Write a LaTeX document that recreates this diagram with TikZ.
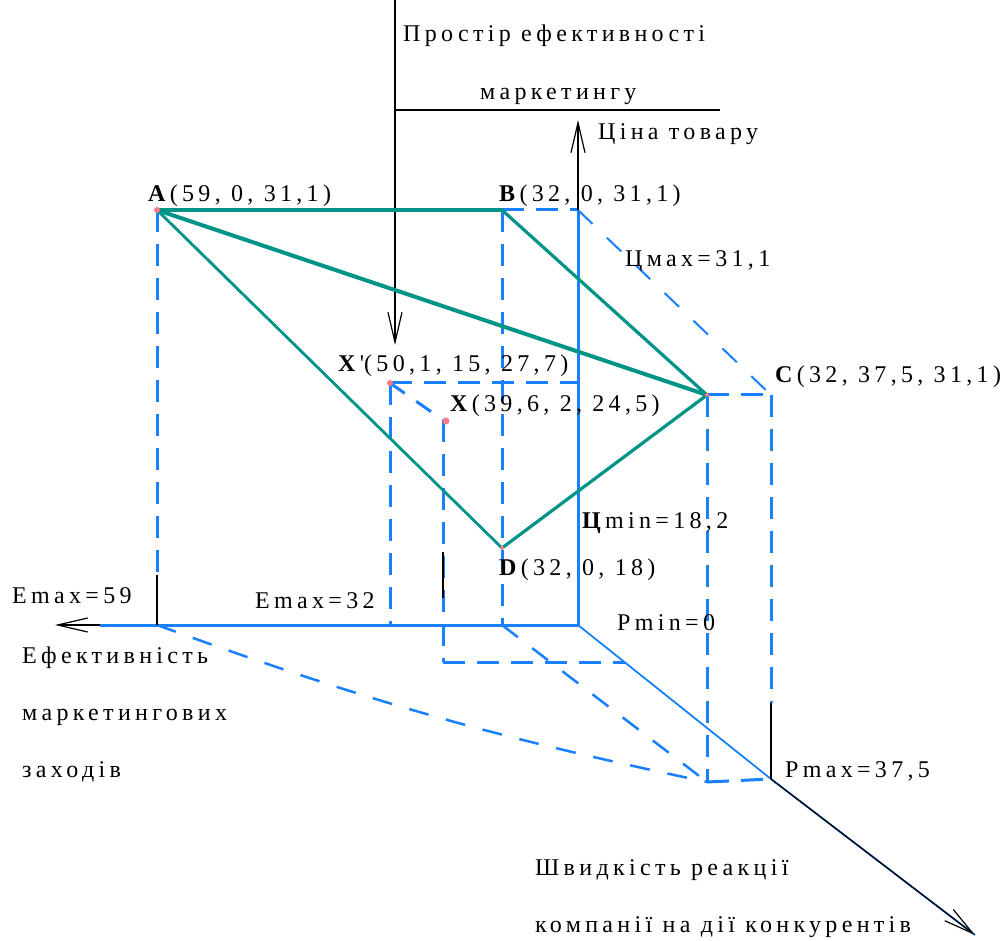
\documentclass[tikz,border=0pt]{standalone}
\usepackage{fontspec}
\setmainfont{Liberation Serif}
\usetikzlibrary{arrows.meta}
\definecolor{tealc}{RGB}{0,148,136}
\definecolor{bluec}{RGB}{25,128,255}
\definecolor{pinkc}{RGB}{255,120,130}
\newcommand{\lab}{\fontsize{24}{27}\selectfont\addfontfeature{LetterSpace=18}}
\tikzset{
  lbl/.style={inner sep=0pt, anchor=base west, font=\lab},
  solidb/.style={draw=bluec, line width=3pt},
  dashb/.style={draw=bluec, line width=3pt, dash pattern=on 22pt off 12pt},
  thinb/.style={draw=bluec, line width=1.8pt},
  tealln/.style={draw=tealc, line width=3.2pt},
  blk/.style={draw=black, line width=1.3pt},
  barb/.style={-{Straight Barb[length=30pt,width=14pt,line width=1.2pt]}},
  ptmark/.style={fill=pinkc, draw=none, circle, inner sep=0pt, minimum size=6pt}
}
\begin{document}
\begin{tikzpicture}[x=1pt,y=-1pt]
\useasboundingbox[fill=white] (0,0) rectangle (1005,941);
% key points
\coordinate (A) at (157,210);
\coordinate (B) at (502,210);
\coordinate (Bp) at (578,210);
\coordinate (O) at (578,625);
\coordinate (Ptop) at (578,120);
\coordinate (C) at (707,395);
\coordinate (Cp) at (771,395);
\coordinate (D) at (502,548);
\coordinate (Xp) at (390,383);
\coordinate (Xpr) at (578,383);
\coordinate (X) at (443,420);
\coordinate (E59) at (157,625);
\coordinate (E59t) at (157,575);
\coordinate (Eend) at (100,625);
\coordinate (Etip) at (55,625);
\coordinate (E32) at (390,625);
\coordinate (Bb) at (502,625);
\coordinate (Xb) at (443,662);
\coordinate (Xbr) at (625,662);
\coordinate (Cb) at (707,782);
\coordinate (Pm) at (771,779);
\coordinate (Pmt) at (771,703);
\coordinate (Ptip) at (975,935);
\coordinate (Xmid1) at (443,552);
\coordinate (Xmid2) at (443,598);
\coordinate (Ttop) at (395,0);
\coordinate (Tarr) at (395,345);
\coordinate (Tl) at (395,110);
\coordinate (Tr) at (720,110);

% blue construction lines
\draw[dashb] (A) -- (E59t);
\draw[dashb] (B) -- (Bb);
\draw[dashb] (B) -- (Bp);
\draw[dashb] (Xp) -- (E32);
\draw[dashb] (Xp) -- (Xpr);
\draw[dashb] (X) -- (Xb);
\draw[dashb] (Xb) -- (Xbr);
\draw[dashb, dash pattern=on 18pt off 14pt] (Xp) -- (X);
\draw[solidb] (O) -- (Bp);
\draw[solidb] (Eend) -- (O);
\draw[dashb, line width=2pt, dash pattern=on 20pt off 20pt] (Bp) -- (Cp);
\draw[dashb] (C) -- (Cp);
\draw[dashb] (C) -- (Cb);
\draw[dashb] (Cp) -- (Pmt);
\draw[dashb] (Cb) -- (Pm);
\draw[dashb, line width=2.5pt, dash pattern=on 20pt off 18pt] (E59) to[bend right=4] (Cb);
\draw[dashb, line width=2.5pt, dash pattern=on 20pt off 18pt] (Bb) -- (Cb);
\draw[thinb] (O) -- (Pm);
\draw[thinb] (Pm) -- (Ptip);

% black axes and guides
\draw[blk] (E59t) -- (E59);
\draw[blk, barb] (Eend) -- (Etip);
\draw[blk, barb] (Bp) -- (Ptop);
\draw[blk] (Pmt) -- (Pm);
\draw[blk, barb] (Pm) -- (Ptip);
\draw[blk] (Xmid1) -- (Xmid2);
\draw[blk, barb] (Ttop) -- (Tarr);
\draw[blk] (Tl) -- (Tr);

% teal polygon
\draw[tealln] (A) -- (B);
\draw[tealln, line width=4pt] (A) -- (C);
\draw[tealln, line width=2.8pt] (A) -- (D);
\draw[tealln] (B) -- (C);
\draw[tealln] (C) -- (D);

% point markers
\node[ptmark] (mA) at (A) {};
\node[ptmark] (mXp) at (Xp) {};
\node[ptmark, minimum size=7pt] (mX) at (446,421) {};
\node[ptmark, minimum size=4pt] (mC) at (C) {};
\node[ptmark, minimum size=4pt] (mD) at (D) {};

% labels
\node[lbl] (tA) at (148,202) {\textbf{A}(59, 0, 31,1)};
\node[lbl] (tB) at (499,202) {\textbf{B}(32, 0, 31,1)};
\node[lbl] (tCmax) at (625,267) {Цмах=31,1};
\node[lbl] (tXp) at (338,372) {\textbf{X}\textquotesingle(50,1, 15, 27,7)};
\node[lbl] (tX) at (450,412) {\textbf{X}(39,6, 2, 24,5)};
\node[lbl] (tC) at (775,383) {\textbf{C}(32, 37,5, 31,1)};
\node[lbl] (tCmin) at (582,528) {\textbf{Ц}min=18,2};
\node[lbl] (tD) at (499,575) {\textbf{D}(32, 0, 18)};
\node[lbl] (tPmin) at (617,630) {Pmin=0};
\node[lbl] (tE59) at (12,603) {Emax=59};
\node[lbl] (tE32) at (255,608) {Emax=32};
\node[lbl] (tE1) at (22,663) {Ефективність};
\node[lbl] (tE2) at (22,720) {маркетингових};
\node[lbl] (tE3) at (22,777) {заходів};
\node[lbl] (tPmax) at (785,777) {Pmax=37,5};
\node[lbl] (tS1) at (535,875) {Швидкість реакції};
\node[lbl] (tS2) at (535,932) {компанії на дії конкурентів};
\node[lbl] (tT1) at (403,42) {Простір ефективності};
\node[lbl] (tT2) at (480,100) {маркетингу};
\node[lbl] (tPr) at (598,140) {Ціна товару};
\end{tikzpicture}
\end{document}
